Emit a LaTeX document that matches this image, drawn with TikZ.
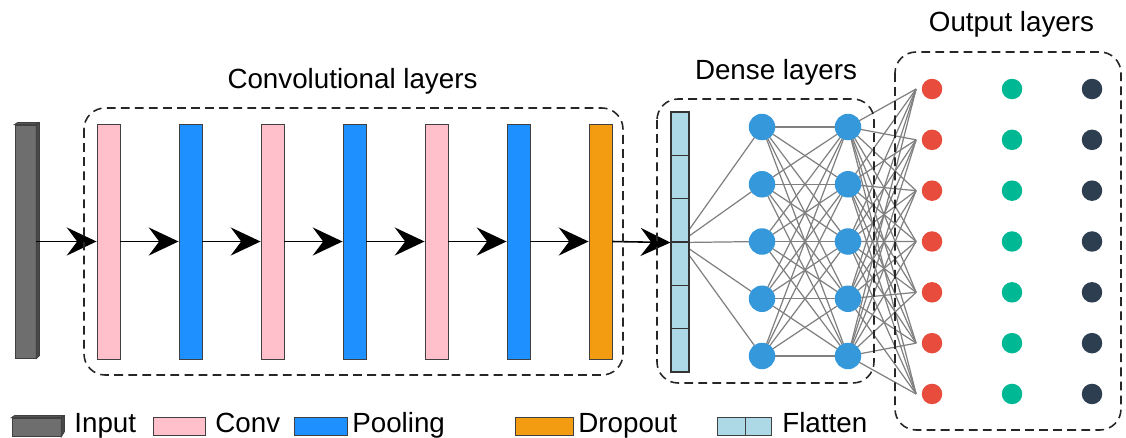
\documentclass[tikz,border=0pt]{standalone}
\usepackage{fontspec}
\setmainfont{Liberation Sans}
\usetikzlibrary{arrows.meta,positioning,backgrounds}

\definecolor{inputgray}{HTML}{6E6E6E}
\definecolor{inputdark}{HTML}{4A4A4A}
\definecolor{convpink}{HTML}{FFC0CB}
\definecolor{poolblue}{HTML}{1E90FF}
\definecolor{droporange}{HTML}{F39C12}
\definecolor{flatblue}{HTML}{ADD8E6}
\definecolor{densblue}{HTML}{3498DB}
\definecolor{outred}{HTML}{E74C3C}
\definecolor{outgreen}{HTML}{00B894}
\definecolor{outdark}{HTML}{2C3E50}

\begin{document}
\begin{tikzpicture}[x=0.02cm, y=-0.02cm,
    font=\fontsize{15.8}{18}\selectfont,
    bar/.style={draw=black!75, line width=0.5pt, minimum width=0.46cm, minimum height=4.7cm, inner sep=0pt},
    cell/.style={draw=black!80, fill=flatblue, line width=0.6pt, minimum width=0.36cm, minimum height=0.867cm, inner sep=0pt},
    flow/.style={-{Stealth[length=17pt, width=16pt, inset=6pt]}, line width=0.9pt},
    group/.style={draw=black!85, dash pattern=on 5pt off 3pt, line width=0.9pt, rounded corners=12pt},
    neuron/.style={circle, fill=densblue, minimum size=0.53cm, inner sep=0pt},
    outnode/.style={circle, minimum size=0.41cm, inner sep=0pt},
    link/.style={draw=gray, line width=0.7pt},
    legbox/.style={draw=black!75, line width=0.5pt, minimum height=0.36cm, inner sep=0pt},
    legtext/.style={anchor=base west, inner sep=0pt}]
    \useasboundingbox (0,0) rectangle (1126,437);

    % Draw input block
    \node[bar, fill=inputgray, minimum width=0.42cm, minimum height=4.66cm] (input) at (25.5,241.5) {};
    \filldraw[fill=inputgray!80!black, draw=black!75, line width=0.5pt] (input.north west) -- ++(3,-2) -- ++(21,0) -- (input.north east) -- cycle;
    \filldraw[fill=inputdark, draw=black!75, line width=0.5pt] (input.north east) -- ++(3,-2) -- ++(0,233) -- (input.south east) -- cycle;

    % Draw convolutional layers
    \foreach \name/\x/\col in {c1/108.5/convpink, p1/190.5/poolblue, c2/272.5/convpink, p2/354.5/poolblue,
                               c3/436.5/convpink, p3/518.5/poolblue, drop/600.5/droporange}
        \node[bar, fill=\col] (\name) at (\x,241.5) {};

    % Draw flatten layer
    \foreach \i in {1,...,6}
        \node[cell] (f\i) at (680,{112+43.33*(\i-0.5)}) {};

    % Draw arrows between blocks
    \foreach \a/\b in {input/c1, c1/p1, p1/c2, c2/p2, p2/c3, c3/p3, p3/drop}
        \draw[flow] (\a.east) -- (\b.west);
    \draw[flow] (drop.east) -- (f3.south west);

    % Draw dense layers
    \foreach \i in {1,...,5} {
        \node[neuron] (h\i) at (762,{127+57.25*(\i-1)}) {};
        \node[neuron] (g\i) at (848,{127+57.25*(\i-1)}) {};
    }

    % Draw output layers
    \foreach \i in {1,...,7} {
        \node[outnode, fill=outred] (r\i) at (932,{89+50.83*(\i-1)}) {};
        \node[outnode, fill=outgreen] (t\i) at (1012,{89+50.83*(\i-1)}) {};
        \node[outnode, fill=outdark] (k\i) at (1092,{89+50.83*(\i-1)}) {};
    }

    % Draw connections behind the layers
    \begin{scope}[on background layer]
        \foreach \i in {1,...,5} {
            \draw[link] (f3.south) -- (h\i.center);
            \foreach \j in {1,...,5}
                \draw[link] (h\i.center) -- (g\j.center);
            \foreach \j in {1,...,7}
                \draw[link] (g\i.center) -- ([xshift=-3pt]r\j.west);
        }
    \end{scope}

    % Draw group boxes
    \draw[group] (84,108) rectangle (623,375);
    \draw[group] (657,99) rectangle (874,383);
    \draw[group] (895,52) rectangle (1121,430);
    \node[anchor=base, inner sep=0pt] (convlabel) at (352.5,88) {Convolutional layers};
    \node[anchor=base, inner sep=0pt] (denselabel) at (776,79) {Dense layers};
    \node[anchor=base, inner sep=0pt] (outlabel) at (1011.5,31) {Output layers};

    % Draw legend
    \node[legbox, fill=inputgray, minimum width=0.98cm] (linput) at (36.5,427) {};
    \filldraw[fill=inputgray!80!black, draw=black!75, line width=0.5pt] (linput.north west) -- ++(3,-2) -- ++(49,0) -- (linput.north east) -- cycle;
    \filldraw[fill=inputdark, draw=black!75, line width=0.5pt] (linput.north east) -- ++(3,-2) -- ++(0,16) -- (linput.south east) -- cycle;
    \node[legtext] (tinput) at (74,432) {Input};
    \node[legbox, fill=convpink, minimum width=1.04cm] (lconv) at (179,426) {};
    \node[legtext] (tconv) at (215,432) {Conv};
    \node[legbox, fill=poolblue, minimum width=1.06cm] (lpool) at (320.5,426) {};
    \node[legtext] (tpool) at (352,432) {Pooling};
    \node[legbox, fill=droporange, minimum width=1.16cm] (ldrop) at (544,426) {};
    \node[legtext] (tdrop) at (578,432) {Dropout};
    \node[legbox, fill=flatblue, minimum width=0.56cm] (lflat1) at (731,426) {};
    \node[legbox, fill=flatblue, minimum width=0.52cm, right=0pt of lflat1] (lflat2) {};
    \node[legtext] (tflat) at (782,432) {Flatten};
\end{tikzpicture}
\end{document}
